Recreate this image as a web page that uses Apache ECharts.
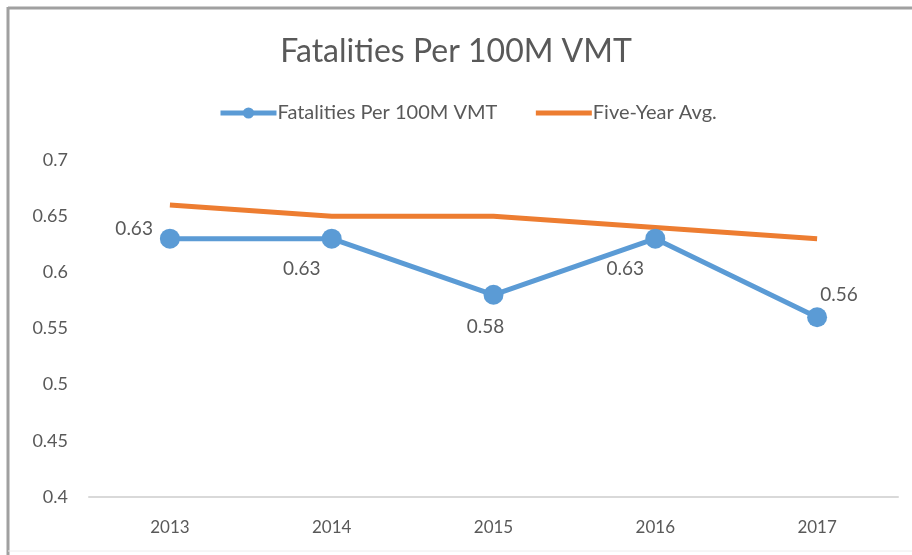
<!DOCTYPE html>
<html>
<head>
<meta charset="utf-8">
<script src="https://cdn.jsdelivr.net/npm/echarts@6/dist/echarts.min.js"></script>
<style>
  html, body { margin: 0; padding: 0; background: #fff; }
  #chart { width: 912px; height: 555px; }
</style>
</head>
<body>
<div id="chart"></div>
<script>
// 数据
const years = ['2013', '2014', '2015', '2016', '2017'];
const fatalities = [0.63, 0.63, 0.58, 0.63, 0.56];
const fiveYearAvg = [0.66, 0.65, 0.65, 0.64, 0.63];
// 每个点的标签位置
const labelPos = ['left', 'bottom', 'bottom', 'bottom', 'top'];
const labelOffset = [[-2, -10], [-30, 6], [-8, 8], [-30, 6], [22, 2]];

const chart = echarts.init(document.getElementById('chart'));
const FONT = 'Lato';
const TEXT = '#595959';

const option = {
    animation: false,
    textStyle: { fontFamily: FONT },
    title: {
        text: 'Fatalities Per 100M VMT',
        left: 'center',
        top: 31,
        textStyle: { fontFamily: FONT, fontSize: 32, fontWeight: 'normal', color: TEXT }
    },
    legend: {
        top: 98,
        left: 213,
        itemGap: 36,
        itemWidth: 56,
        itemHeight: 14,
        lineStyle: { width: 5 },
        textStyle: { fontFamily: FONT, fontSize: 20, color: TEXT, padding: [0, 0, 0, -4] },
        data: [
            { name: 'Fatalities Per 100M VMT' },
            { name: 'Five-Year Avg.', itemStyle: { opacity: 0 } }
        ]
    },
    grid: { left: 89, right: 14, top: 160, bottom: 58 },
    xAxis: {
        type: 'category',
        data: years,
        axisLine: { lineStyle: { color: '#d9d9d9', width: 2 } },
        axisTick: { show: false },
        axisLabel: { color: TEXT, fontSize: 17, margin: 22 }
    },
    yAxis: {
        type: 'value',
        min: 0.4,
        max: 0.7,
        interval: 0.05,
        splitLine: { show: false },
        axisLine: { show: false },
        axisTick: { show: false },
        axisLabel: { color: TEXT, fontSize: 18, margin: 21 }
    },
    series: [
        {
            name: 'Fatalities Per 100M VMT',
            type: 'line',
            data: fatalities.map((v, i) => ({
                value: v,
                label: { position: labelPos[i], offset: labelOffset[i] }
            })),
            symbol: 'circle',
            symbolSize: 20,
            lineStyle: { color: '#5b9bd5', width: 5 },
            itemStyle: { color: '#5b9bd5' },
            label: { show: true, color: TEXT, fontSize: 19, formatter: p => p.value.toFixed(2) },
            z: 3
        },
        {
            name: 'Five-Year Avg.',
            type: 'line',
            data: fiveYearAvg,
            symbol: 'none',
            lineStyle: { color: '#ed7d31', width: 5 },
            itemStyle: { color: '#ed7d31' },
            z: 2
        }
    ],
    graphic: [
        // 外框
        { type: 'line', shape: { x1: 8, y1: 8, x2: 912, y2: 8 }, style: { stroke: '#a0a0a0', lineWidth: 3 } },
        { type: 'line', shape: { x1: 8, y1: 7, x2: 8, y2: 555 }, style: { stroke: '#a0a0a0', lineWidth: 3 } },
        { type: 'line', shape: { x1: 8, y1: 551, x2: 912, y2: 551 }, style: { stroke: '#ececec', lineWidth: 1 } }
    ]
};

chart.setOption(option);
</script>
</body>
</html>
